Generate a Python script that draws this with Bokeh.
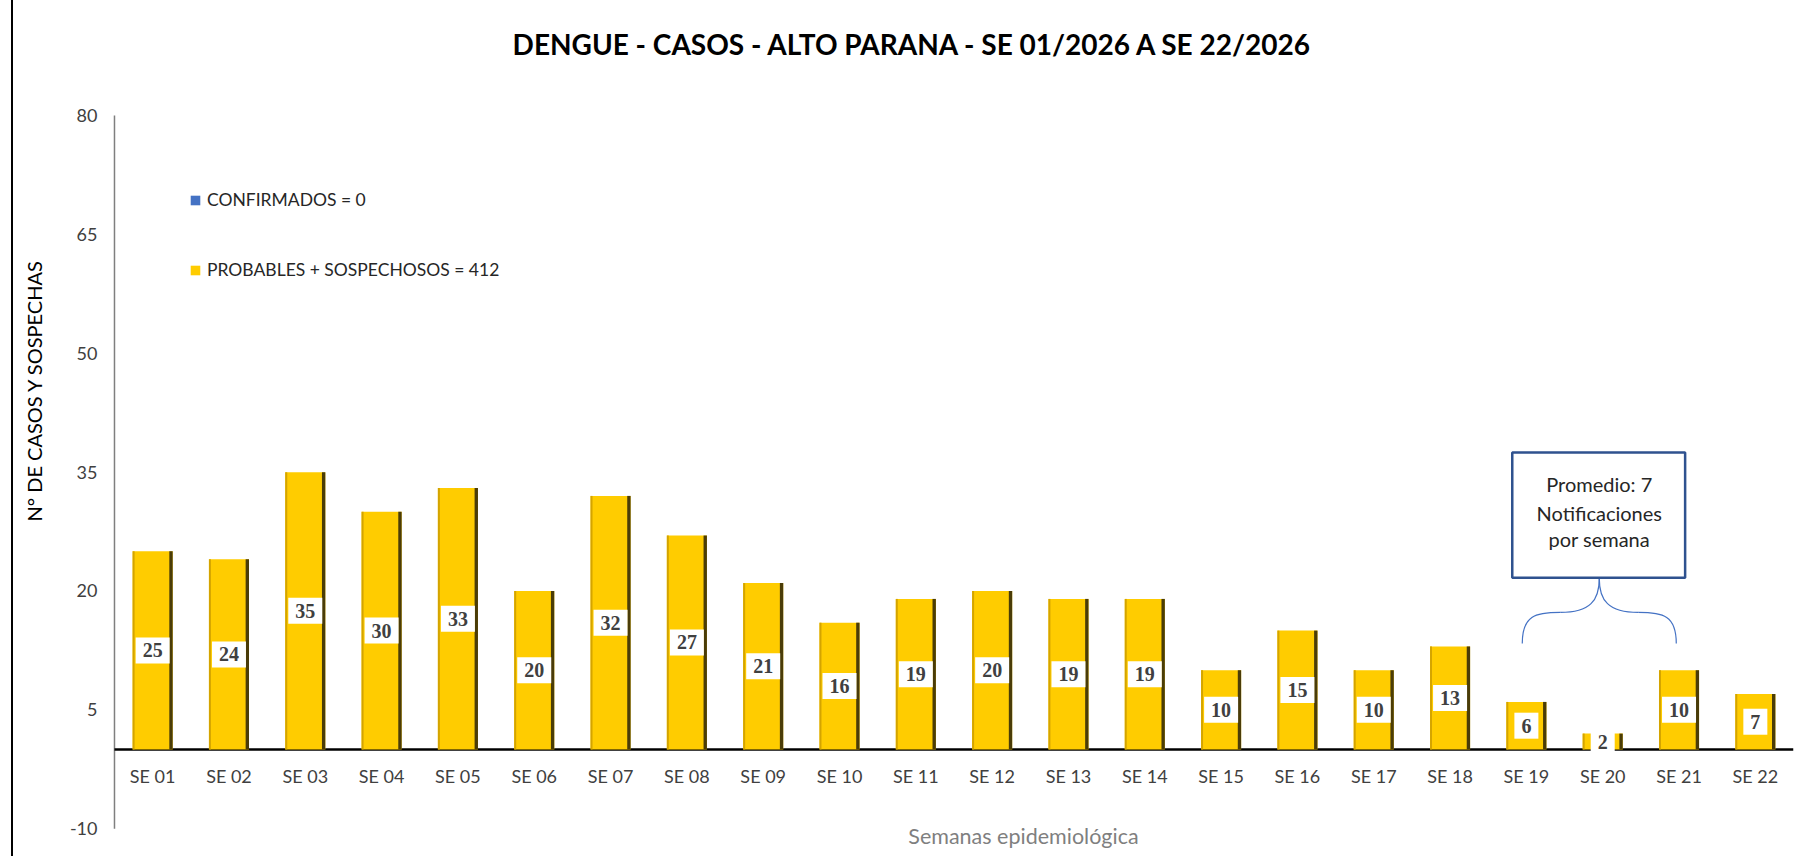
import math
from bokeh.plotting import figure
from bokeh.models import (Range1d, Label, BoxAnnotation,
                          Legend, LegendItem, ColumnDataSource)
from bokeh.core.properties import value
from bokeh.embed import file_html
from bokeh.resources import INLINE

# ---------------- data ----------------
semanas = ["SE 01", "SE 02", "SE 03", "SE 04", "SE 05", "SE 06", "SE 07", "SE 08",
           "SE 09", "SE 10", "SE 11", "SE 12", "SE 13", "SE 14", "SE 15", "SE 16",
           "SE 17", "SE 18", "SE 19", "SE 20", "SE 21", "SE 22"]
probables = [25, 24, 35, 30, 33, 20, 32, 27, 21, 16, 19, 20, 19, 19, 10, 15,
             10, 13, 6, 2, 10, 7]
confirmados = [0] * 22
y_ticks = [-10, 5, 20, 35, 50, 65, 80]
titulo = "DENGUE - CASOS - ALTO PARANA - SE 01/2026 A SE 22/2026"
titulo_y = "N° DE CASOS Y SOSPECHAS"
titulo_x = "Semanas epidemiológica"
label_conf = "CONFIRMADOS = 0"
label_prob = "PROBABLES + SOSPECHOSOS = 412"
callout_lines = ["Promedio: 7", "Notificaciones", "por semana"]

FONT = "Lato"
BAR_W = 0.525
AXIS_X = 0.5           # category axis starts here (y axis position)
AXIS_END = len(semanas) + 0.5
TICK_LABEL_X = 0.277   # right edge of y tick labels

xs = list(range(1, len(semanas) + 1))
src = ColumnDataSource(dict(
    x=xs,
    x_left=[x - BAR_W / 2 + 0.013 for x in xs],
    x_right=[x + BAR_W / 2 - 0.022 for x in xs],
    top=probables,
    conf=confirmados,
    mid=[v / 2 for v in probables],
    lbl=[str(v) for v in probables],
    cat=semanas,
    cat_y=[-3.3] * len(xs),
))
tick_src = ColumnDataSource(dict(
    x=[TICK_LABEL_X] * len(y_ticks),
    y=y_ticks,
    t=[str(t) for t in y_ticks],
))

p = figure(width=1798, height=856, output_backend="svg", toolbar_location=None,
           x_range=Range1d(-0.8232, 22.5), y_range=Range1d(-12.5, 92),
           x_axis_location=None, y_axis_location=None,
           min_border_left=0, min_border_right=18,
           min_border_top=20, min_border_bottom=8)
p.styles = {"margin-left": "11px", "border-left": "2px solid black"}
p.outline_line_color = None
p.xgrid.grid_line_color = None
p.ygrid.grid_line_color = None
p.background_fill_color = "white"

# value axis: line + tick labels
p.segment(x0=[AXIS_X], y0=[min(y_ticks)], x1=[AXIS_X], y1=[max(y_ticks)],
          line_color="#7F7F7F", line_width=1.5)
p.text(x="x", y="y", text="t", source=tick_src,
       text_font=value(FONT), text_font_size="18px", text_color="#404040",
       text_align="right", text_baseline="middle")

# baseline (category axis at 0)
p.segment(x0=[AXIS_X], y0=[0], x1=[AXIS_END], y1=[0],
          line_color="black", line_width=2.5)

# bars
r_conf = p.vbar(x="x", top="conf", bottom=0, width=BAR_W, source=src,
                fill_color="#4472C4", line_color=None)
r_prob = p.vbar(x="x", top="top", bottom=0, width=BAR_W, source=src,
                fill_color="#FFCC00", line_color=None)
p.vbar(x="x_left", top="top", bottom=0, width=0.026, source=src,
       fill_color="#D4A400", line_color=None)
p.vbar(x="x_right", top="top", bottom=0, width=0.044, source=src,
       fill_color="#4A3C08", line_color=None)

# data labels
p.text(x="x", y="mid", text="lbl", source=src,
       text_font=value("Liberation Serif"), text_font_style="bold",
       text_font_size="20px", text_color="#404040",
       text_align="center", text_baseline="middle",
       background_fill_color="white", padding=(7, 6))

# category labels
p.text(x="x", y="cat_y", text="cat", source=src,
       text_font=value(FONT), text_font_size="18px", text_color="#404040",
       text_align="center", text_baseline="middle")

# titles
p.text(x=[10.965], y=[89.05], text=[titulo],
       text_font=value(FONT), text_font_style="bold", text_font_size="28px",
       text_color="#000000", text_align="center", text_baseline="middle")
p.text(x=[12.41], y=[-10.86], text=[titulo_x],
       text_font=value(FONT), text_font_size="21.5px", text_color="#7F7F7F",
       text_align="center", text_baseline="middle")
p.text(x=[-0.55], y=[45.3], text=[titulo_y], angle=math.pi / 2,
       text_font=value(FONT), text_font_size="20px", text_color="#000000",
       text_align="center", text_baseline="middle")

# legend
legend = Legend(items=[LegendItem(label=label_conf, renderers=[r_conf]),
                       LegendItem(label=label_prob, renderers=[r_prob])],
                location=(176, 568), orientation="vertical",
                glyph_width=12, glyph_height=12, label_height=20,
                spacing=49, padding=0, margin=0, label_standoff=6,
                label_text_font=FONT, label_text_font_size="17.5px",
                label_text_color="#262626",
                border_line_alpha=0, background_fill_alpha=0)
p.add_layout(legend)

# callout box
p.add_layout(BoxAnnotation(left=18.815, right=21.08, bottom=21.68, top=37.47,
                           fill_color="white", fill_alpha=1,
                           line_color="#2F528F", line_alpha=1, line_width=2.5))
for txt, yy in zip(callout_lines, [33.5, 29.85, 26.6]):
    p.add_layout(Label(x=19.955, y=yy, text=txt, text_font=FONT,
                       text_font_size="20px", text_color="#262626",
                       text_align="center", text_baseline="middle"))

# curly brace
p.bezier(x0=[18.946, 19.444, 20.964, 20.466],
         y0=[13.38, 17.29, 13.38, 17.29],
         x1=[19.444, 19.955, 20.466, 19.955],
         y1=[17.29, 21.59, 17.29, 21.59],
         cx0=[18.946, 19.837, 20.964, 20.073],
         cy0=[16.91, 17.29, 16.91, 17.29],
         cx1=[19.116, 19.955, 20.794, 19.955],
         cy1=[17.29, 18.81, 17.29, 18.81],
         line_color="#4472C4", line_width=1.2)

open("out.html", "w").write(file_html(p, INLINE))
